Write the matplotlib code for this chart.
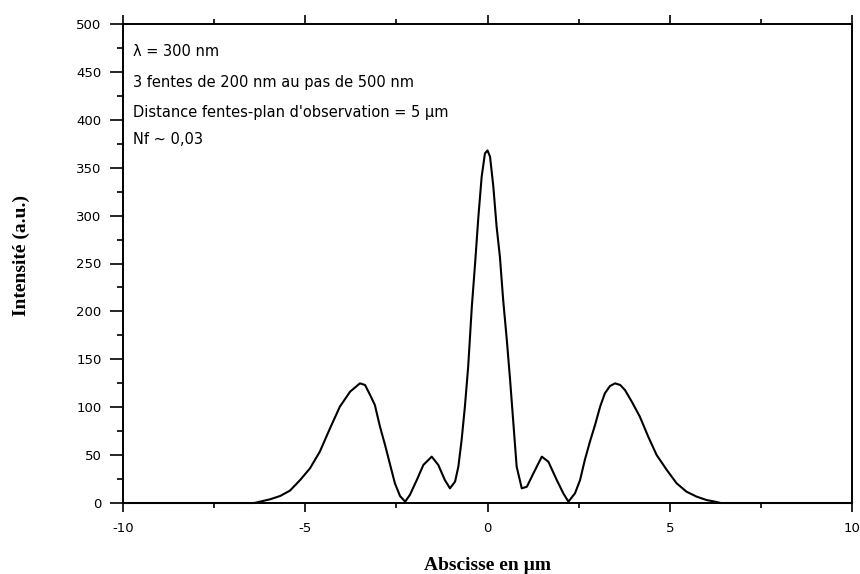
import matplotlib
matplotlib.use("Agg")
import matplotlib.pyplot as plt
from matplotlib.ticker import MultipleLocator

# intensity profile (x in um, intensity in a.u.)
x_um = [-10.0, -6.4, -6.24, -5.97, -5.69, -5.42, -5.14, -4.87, -4.60, -4.32,
        -4.05, -3.77, -3.50, -3.36, -3.22, -3.09, -2.95, -2.81, -2.67, -2.54,
        -2.40, -2.26, -2.13, -1.94, -1.76, -1.53, -1.35, -1.17, -1.03, -0.89,
        -0.80, -0.71, -0.62, -0.53, -0.43, -0.34, -0.25, -0.16, -0.07, 0.0,
        0.07, 0.16, 0.25, 0.34, 0.43, 0.53, 0.62, 0.71, 0.80, 0.94,
        1.08, 1.26, 1.49, 1.67, 1.90, 2.08, 2.22, 2.40, 2.54, 2.67,
        2.81, 2.95, 3.09, 3.22, 3.36, 3.50, 3.64, 3.77, 3.96, 4.18,
        4.41, 4.64, 4.92, 5.19, 5.46, 5.74, 6.01, 6.24, 6.4, 10.0]
intensity = [0.0, 0.0, 1.4, 3.8, 7.3, 12.9, 24.0, 36.2, 53.6, 78.0,
             100.6, 116.2, 124.9, 123.2, 112.7, 102.3, 79.7, 60.5, 39.7, 20.5,
             7.3, 1.4, 8.4, 24.0, 39.7, 48.4, 39.7, 24.0, 15.3, 22.3,
             37.9, 65.8, 100.6, 142.3, 204.9, 250.2, 298.9, 340.6, 365.0, 368.0,
             361.5, 330.2, 288.4, 257.1, 211.9, 170.1, 128.4, 83.2, 37.9, 15.3,
             17.0, 31.0, 48.4, 43.1, 24.0, 10.1, 1.4, 10.1, 24.0, 44.9,
             64.0, 81.4, 100.6, 114.5, 122.1, 124.9, 123.2, 118.0, 105.7, 90.1,
             69.2, 50.1, 34.4, 20.5, 11.8, 6.6, 3.1, 1.4, 0.0, 0.0]

notes = ["λ = 300 nm",
         "3 fentes de 200 nm au pas de 500 nm",
         "Distance fentes-plan d'observation = 5 µm",
         "Nf ~ 0,03"]
note_rows = [51, 82, 112, 139]   # pixel rows of the annotation lines

W, H = 860, 574
fig = plt.figure(figsize=(W / 100, H / 100), dpi=100)
left, right, top, bottom = 123, 852, 24, 503
ax = fig.add_axes([left / W, 1 - bottom / H, (right - left) / W, (bottom - top) / H])

ax.plot(x_um, intensity, color="black", lw=1.5, clip_on=False, zorder=3)

ax.set_xlim(-10, 10)
ax.set_ylim(0, 500)
ax.xaxis.set_major_locator(MultipleLocator(5))
ax.xaxis.set_minor_locator(MultipleLocator(2.5))
ax.yaxis.set_major_locator(MultipleLocator(50))
ax.yaxis.set_minor_locator(MultipleLocator(25))

for sp in ax.spines.values():
    sp.set_linewidth(1.4)

ax.tick_params(axis="x", which="major", direction="out", length=6.5, width=1.2,
               top=True, labelsize=9.5, pad=7)
ax.tick_params(axis="x", which="minor", direction="out", length=3.5, width=1.2, top=True)
ax.tick_params(axis="y", which="major", direction="out", length=9.5, width=1.2,
               labelsize=9.5, pad=6)
ax.tick_params(axis="y", which="minor", direction="out", length=4.5, width=1.2)
ax.set_xticklabels([str(int(v)) for v in ax.get_xticks()])

for txt, row in zip(notes, note_rows):
    ax.text((133 - left) / (right - left), (bottom - row) / (bottom - top), txt,
            transform=ax.transAxes, ha="left", va="center", fontsize=10.5,
            family="DejaVu Sans")

fig.text(487 / W, 1 - 566 / H, "Abscisse en µm", ha="center", va="center",
         fontsize=14, fontweight="bold", family="Liberation Serif")
fig.text(21 / W, 1 - 255 / H, "Intensité (a.u.)", ha="center", va="center",
         rotation=90, fontsize=14, fontweight="bold", family="Liberation Serif")

fig.savefig("out.png", dpi=100)
